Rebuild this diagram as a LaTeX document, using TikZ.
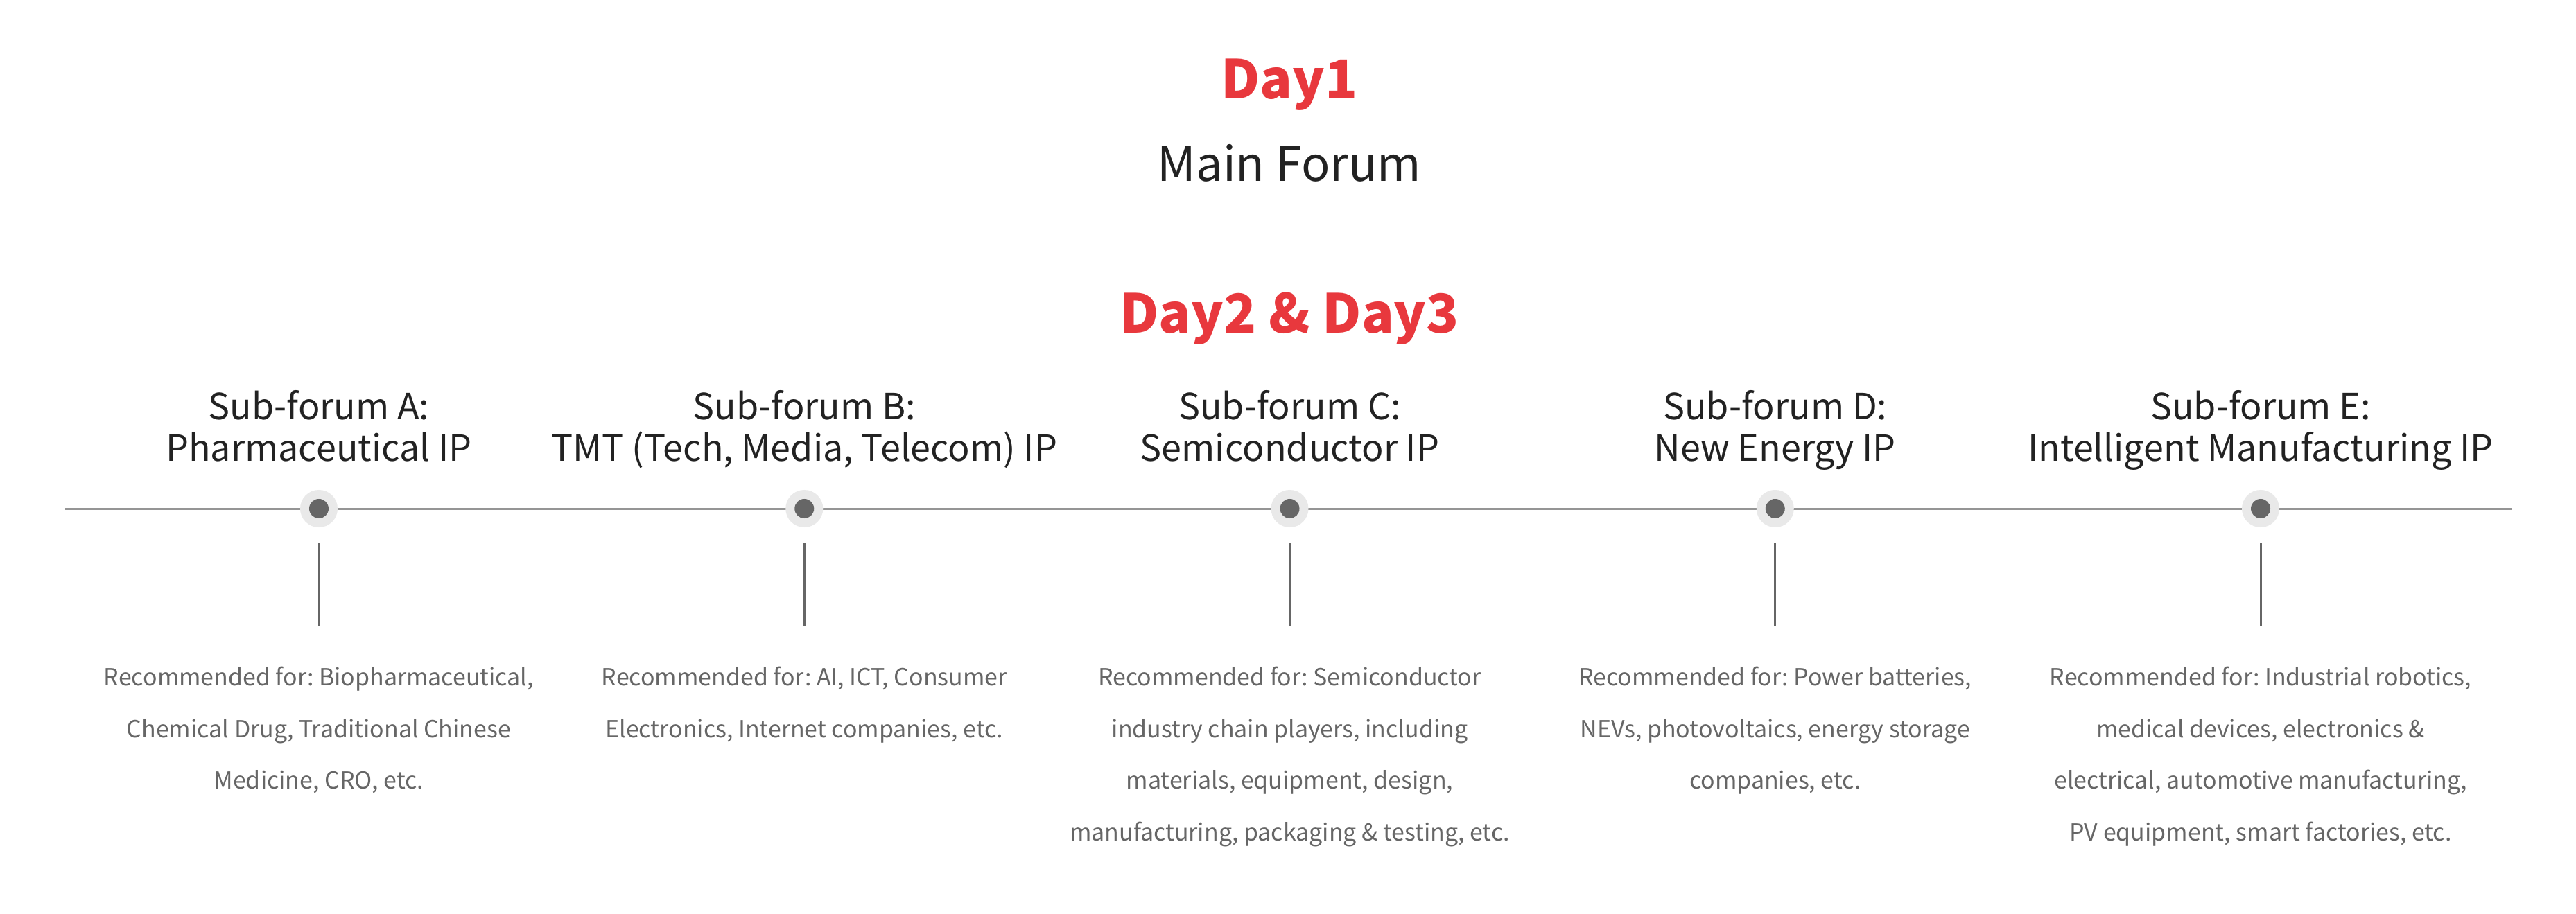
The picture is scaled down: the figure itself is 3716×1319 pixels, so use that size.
\documentclass[tikz,border=0pt]{standalone}
\usepackage{fontspec}
\setmainfont{Noto Sans CJK SC}
\frenchspacing
\definecolor{dayred}{HTML}{E8383D}
\definecolor{titlegray}{HTML}{222222}
\definecolor{textgray}{HTML}{666666}
\definecolor{linegray}{HTML}{959595}
\definecolor{halogray}{HTML}{E9E9E9}
\tikzset{
  daylabel/.style={anchor=base,inner sep=0pt,text=dayred,font=\fontsize{22}{26}\selectfont\bfseries},
  mainlabel/.style={anchor=base,inner sep=0pt,text=titlegray,font=\fontsize{19.5}{23}\selectfont},
  subtitle/.style={anchor=north,inner sep=0pt,align=center,text=titlegray,font=\fontsize{14.8}{17}\selectfont},
  desc/.style={anchor=north,inner sep=0pt,align=center,text=textgray,font=\fontsize{9.65}{21.3}\selectfont},
  timeline/.style={draw=linegray,line width=0.03cm},
  stem/.style={draw=textgray,line width=0.03cm},
  halo/.style={circle,fill=halogray,inner sep=0pt,minimum size=0.54cm},
  dot/.style={circle,fill=textgray,inner sep=0pt,minimum size=0.28cm}
}
\begin{document}
\begin{tikzpicture}[x=0.01cm,y=-0.01cm]
  \useasboundingbox[fill=white] (0,0) rectangle (3716,1319);
  \node[daylabel] (day1) at (1860,143) {Day1};
  \node[mainlabel] (mainforum) at (1860,262) {Main Forum};
  \node[daylabel] (day23) at (1860,481) {Day2 \& Day3};
  \coordinate (tlstart) at (94,734);
  \coordinate (tlend) at (3623,734);
  \draw[timeline] (tlstart) -- (tlend);
  \pgfmathsetmacro{\G}{700.25}
  \foreach \i/\lt/\ttl/\dsc in {
      0/A/{Pharmaceutical IP}/{Recommended for: Biopharmaceutical,\\Chemical Drug, Traditional Chinese\\Medicine, CRO, etc.},
      1/B/{TMT (Tech, Media, Telecom) IP}/{Recommended for: AI, ICT, Consumer\\Electronics, Internet companies, etc.},
      2/C/{Semiconductor IP}/{Recommended for: Semiconductor\\industry chain players, including\\materials, equipment, design,\\manufacturing, packaging \& testing, etc.},
      3/D/{New Energy IP}/{Recommended for: Power batteries,\\NEVs, photovoltaics, energy storage\\companies, etc.},
      4/E/{Intelligent Manufacturing IP}/{Recommended for: Industrial robotics,\\medical devices, electronics \&\\electrical, automotive manufacturing,\\PV equipment, smart factories, etc.}}{
    \pgfmathsetmacro{\X}{460+\G*\i}
    \node[halo] (halo\lt) at (\X,734) {};
    \node[dot] (dot\lt) at (\X,734) {};
    \node[subtitle] (sub\lt) at (\X,563) {Sub-forum \lt:\\\ttl};
    \coordinate (stemtop\lt) at (\X,784);
    \coordinate (stembot\lt) at (\X,903);
    \draw[stem] (stemtop\lt) -- (stembot\lt);
    \node[desc] (desc\lt) at (\X,961) {\dsc};
  }
\end{tikzpicture}
\end{document}
